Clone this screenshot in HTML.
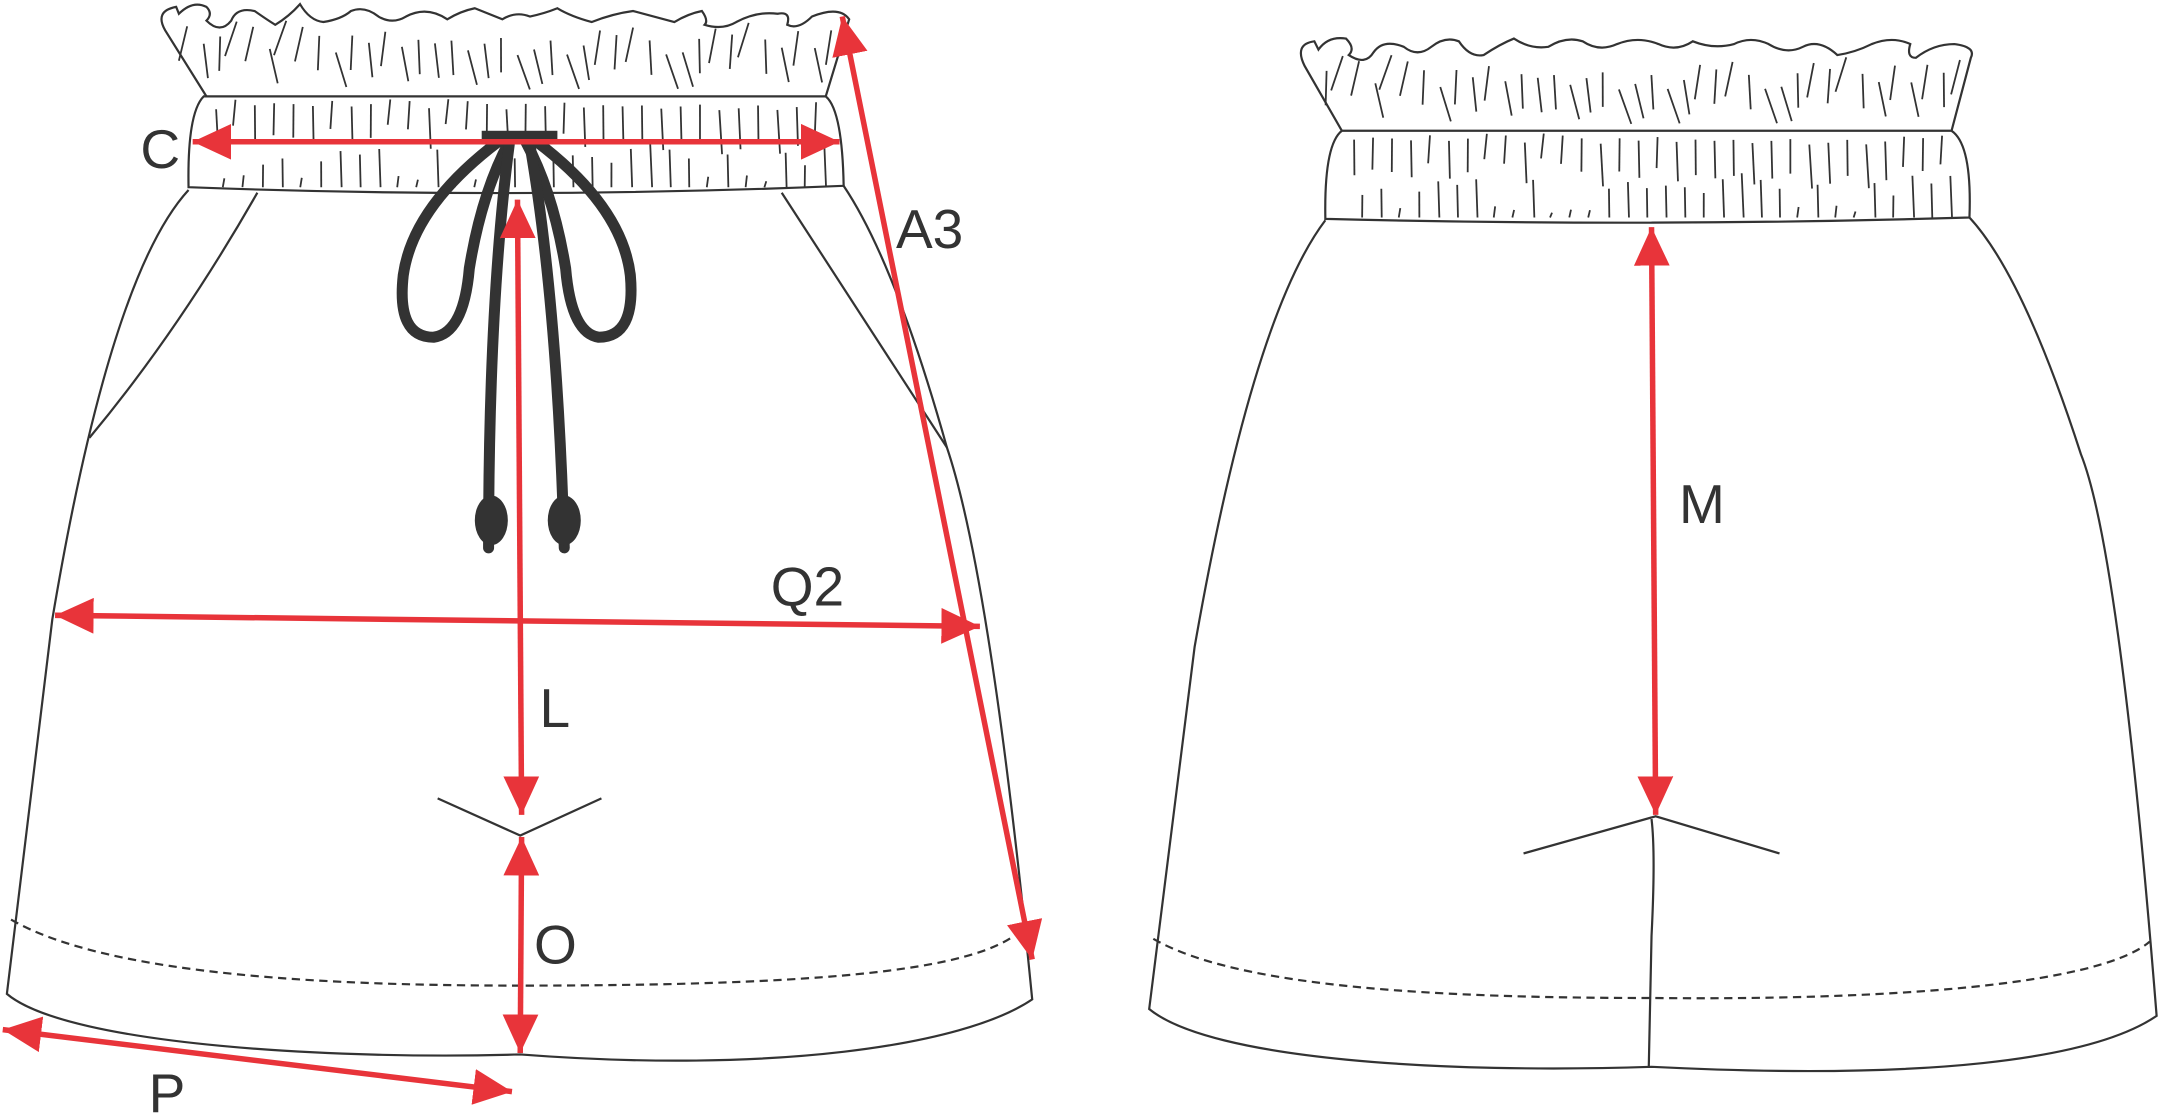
<!DOCTYPE html>
<html><head><meta charset="utf-8"><style>
html,body{margin:0;padding:0;background:#fff;}
svg{display:block;}
text{font-family:"Liberation Sans",sans-serif;fill:#333;}
</style></head><body>
<svg id="s" width="2158" height="1115" viewBox="0 0 1568 810" preserveAspectRatio="none" xmlns="http://www.w3.org/2000/svg">
<defs>
<marker id="ah" markerUnits="userSpaceOnUse" markerWidth="30" markerHeight="26" refX="28" refY="13" orient="auto-start-reverse">
<path d="M0,0 L28,13 L0,26 Z" fill="#e8343a"/></marker>
</defs>
<g fill="none" stroke="#333" stroke-width="1.6">
<path d="M150,70 L120,22 Q112,8 128,5 L130,10 Q140,0 150,5 Q155,10 150,15 Q160,25 168,15 Q172,5 185,8 Q195,15 200,18 Q210,12 218,3 Q225,15 235,16 Q248,14 255,8 Q265,4 275,12 Q285,18 295,12 Q310,4 325,14 Q335,8 345,6 Q355,10 365,14 Q375,8 385,12 Q395,10 405,6 Q415,12 430,16 Q445,10 460,8 Q475,12 490,16 Q500,10 510,8 Q515,15 512,18 Q525,22 535,16 Q550,8 565,10 Q575,8 572,18 Q580,22 590,12 Q610,4 617,14 L600,70"/>
<path d="M148,70 L600,70 Q612,80 613,135 Q375,145 137,136 Q136,82 148,70 Z"/>
<path d="M137,138 Q80,200 38,450 L5,722 C50,760 250,770 378,766 C560,780 700,760 750,726 Q720,420 688,325 Q650,190 613,135"/>
<path d="M187,140 Q130,240 65,318"/>
<path d="M568,140 Q620,220 688,325"/>
<path d="M8,668 C80,710 250,716 378,716 C600,716 720,705 745,672" stroke-dasharray="6,4"/>
<path d="M318,580 L378,607 L437,580"/>
<path d="M975,95 L948,48 Q940,32 955,30 L958,36 Q965,26 978,28 Q985,35 980,40 Q992,48 998,38 Q1005,28 1020,34 Q1030,42 1040,34 Q1050,26 1060,30 Q1068,42 1078,40 Q1090,32 1100,28 Q1112,36 1125,34 Q1138,26 1150,30 Q1162,38 1175,32 Q1190,26 1205,32 Q1218,38 1230,30 Q1245,36 1260,32 Q1272,26 1285,32 Q1298,40 1310,34 Q1322,28 1335,40 Q1348,38 1360,32 Q1375,26 1388,32 Q1385,42 1392,42 Q1405,32 1420,32 Q1436,34 1432,42 L1418,95"/>
<path d="M975,95 L1418,95 Q1433,105 1431,158 Q1200,165 963,159 Q962,105 975,95 Z"/>
<path d="M963,160 Q910,230 868,470 L835,733 C880,770 1050,780 1200,775 C1400,785 1520,770 1567,738 Q1540,400 1512,330 Q1470,200 1431,158"/>
<path d="M838,682 C900,718 1050,725 1200,725 C1400,727 1530,712 1562,684" stroke-dasharray="6,4"/>
<path d="M1200,595 Q1203,620 1200,680 L1198,775"/>
<path d="M1107,620 L1203,593 L1293,620"/>
</g>
<g id="ticks" stroke="#333" stroke-width="1.3"></g>
<g fill="none" stroke="#333" stroke-width="8" stroke-linecap="round">
<path d="M362,103 Q300,150 293,200 Q288,245 315,245 Q337,242 341,195 Q350,140 370,103"/>
<path d="M390,103 Q452,150 458,200 Q462,245 435,245 Q415,242 411,195 Q402,140 382,103"/>
<path d="M370,105 Q355,220 355,398"/>
<path d="M385,105 Q405,220 410,398"/>
</g>
<rect x="350" y="95" width="55" height="8" fill="#333"/>
<ellipse cx="357" cy="378" rx="12" ry="18" fill="#333"/>
<ellipse cx="410" cy="378" rx="12" ry="18" fill="#333"/>
<g stroke="#e8343a" stroke-width="4" marker-start="url(#ah)" marker-end="url(#ah)">
<line x1="140" y1="103" x2="610" y2="103"/>
<line x1="612" y1="12" x2="750" y2="697"/>
<line x1="40" y1="447" x2="712" y2="455"/>
<line x1="376" y1="145" x2="379" y2="592"/>
<line x1="379" y1="608" x2="378" y2="765"/>
<line x1="2" y1="748" x2="372" y2="793"/>
<line x1="1200" y1="165" x2="1203" y2="592"/>
</g>
<g font-size="40">
<text x="102" y="122">C</text>
<text x="651" y="180">A3</text>
<text x="560" y="440">Q2</text>
<text x="392" y="528">L</text>
<text x="388" y="700">O</text>
<text x="108" y="808">P</text>
<text x="1220" y="380">M</text>
</g>
</svg>
<script>
var g=document.getElementById('ticks'),s='';
function rnd(i){return (Math.sin(i*12.9898)*43758.5453)%1;}
function band(x0,x1,yt,yb,n,seed){
 for(var i=0;i<n;i++){var x=x0+(x1-x0)*(i+0.5)/n;var r=Math.abs(rnd(i+seed));
  s+='<line x1="'+x+'" y1="'+(yt+r*8)+'" x2="'+(x+(r-0.5)*4)+'" y2="'+(yt+18+r*22)+'"/>';
  var r2=Math.abs(rnd(i+seed+50));
  s+='<line x1="'+(x+6)+'" y1="'+(yb-5-r2*30)+'" x2="'+(x+6+(r2-0.5)*3)+'" y2="'+(yb-2)+'"/>';}
}
function ruff(x0,x1,yt,yb,n,seed){
 for(var i=0;i<n;i++){var x=x0+(x1-x0)*(i+0.5)/n;var r=Math.abs(rnd(i+seed));var d=(r-0.5)*18;
  s+='<line x1="'+x+'" y1="'+(yt+r*25)+'" x2="'+(x+d)+'" y2="'+(yt+25+r*25)+'"/>';}
}
band(150,600,72,138,32,1);ruff(130,610,15,70,40,7);
band(977,1418,97,160,32,3);ruff(958,1430,40,95,40,9);
g.innerHTML=s;
</script>
</body></html>
